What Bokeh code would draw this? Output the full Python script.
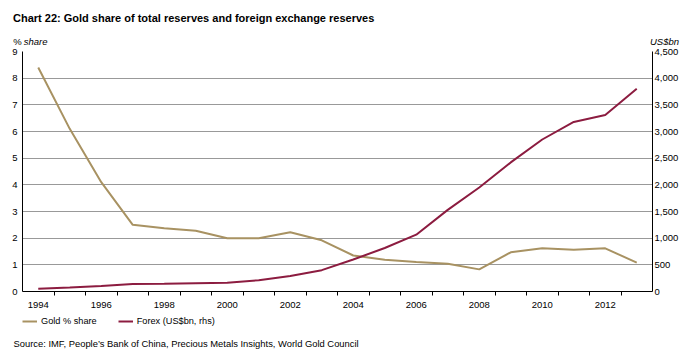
from bokeh.plotting import figure
from bokeh.layouts import column, row
from bokeh.models import (Range1d, LinearAxis, FixedTicker, NumeralTickFormatter,
                          Legend, LegendItem)
from bokeh.core.properties import value
from bokeh.embed import file_html
from bokeh.resources import INLINE

years = list(range(1994, 2014))
gold_share = [8.4, 6.1, 4.1, 2.5, 2.37, 2.28, 2.0, 2.0, 2.22, 1.92, 1.35, 1.19,
              1.11, 1.04, 0.83, 1.47, 1.62, 1.57, 1.62, 1.08]
forex = [52, 75, 105, 140, 145, 155, 166, 212, 290, 400, 600, 815,
         1065, 1530, 1950, 2420, 2850, 3180, 3310, 3800]
x_tick_labels = [1994, 1996, 1998, 2000, 2002, 2004, 2006, 2008, 2010, 2012]
left_ticks = list(range(0, 10))
right_ticks = list(range(0, 4501, 500))

title_text = "Chart 22: Gold share of total reserves and foreign exchange reserves"
left_unit = ["%", "share"]
right_unit = "US$bn"
series_names = ["Gold % share", "Forex (US$bn, rhs)"]
source_text = "Source: IMF, People\u2019s Bank of China, Precious Metals Insights, World Gold Council"

FONT = "Liberation Sans"
GOLD = "#a89262"
FOREX = "#8c1c40"
W = 689


def blank(height, top_px):
    f = figure(width=W, height=height, output_backend="svg", toolbar_location=None,
               x_range=Range1d(0, W), y_range=Range1d(top_px + height, top_px),
               x_axis_location=None, y_axis_location=None,
               min_border=0, min_border_left=0, min_border_right=0,
               min_border_top=0, min_border_bottom=0)
    f.outline_line_color = None
    f.xgrid.visible = False
    f.ygrid.visible = False
    return f


# ---- top strip: title and axis units ----
top = blank(45, 0)
top.text(x=[12.5], y=[17], text=[title_text], text_font=value(FONT),
         text_font_size="11px", text_font_style="bold", text_color="black",
         text_baseline="alphabetic", text_align="left")
top.text(x=[12.7], y=[40.5], text=[left_unit[0]], text_font=value(FONT),
         text_font_size="9.5px", text_color="black",
         text_baseline="alphabetic", text_align="left")
top.text(x=[23.3], y=[40.5], text=[left_unit[1]], text_font=value(FONT),
         text_font_size="9.5px", text_font_style="italic", text_color="black",
         text_baseline="alphabetic", text_align="left")
top.text(x=[678.5], y=[40.5], text=[right_unit], text_font=value(FONT),
         text_font_size="9.5px", text_font_style="italic", text_color="black",
         text_baseline="alphabetic", text_align="right")

# ---- main chart ----
p = figure(width=W, height=268, output_backend="svg", toolbar_location=None,
           x_range=Range1d(1993.5, 2013.5), y_range=Range1d(0, 9),
           min_border_left=22, min_border_right=37, min_border_top=6,
           min_border_bottom=22)
p.outline_line_color = None
p.extra_y_ranges = {"fx": Range1d(0, 4500)}

xa = p.xaxis[0]
xa.ticker = FixedTicker(ticks=x_tick_labels,
                        minor_ticks=[y + 0.5 for y in years[:-1]])
xa.major_tick_out = 0
xa.major_tick_in = 0
xa.minor_tick_out = 4
xa.minor_tick_in = 0
xa.minor_tick_line_color = "black"
xa.axis_line_color = "black"
xa.major_label_text_font = FONT
xa.major_label_text_font_size = "9.5px"
xa.major_label_text_color = "black"
xa.major_label_standoff = 6

ya = p.yaxis[0]
ya.ticker = FixedTicker(ticks=left_ticks)
ya.major_tick_out = 0
ya.major_tick_in = 0
ya.minor_tick_out = 0
ya.minor_tick_in = 0
ya.axis_line_color = "black"
ya.major_label_text_font = FONT
ya.major_label_text_font_size = "9.5px"
ya.major_label_text_color = "black"
ya.major_label_standoff = 5

ra = LinearAxis(y_range_name="fx", ticker=FixedTicker(ticks=right_ticks),
                formatter=NumeralTickFormatter(format="0,0"))
ra.major_tick_out = 0
ra.major_tick_in = 0
ra.minor_tick_out = 0
ra.minor_tick_in = 0
ra.axis_line_color = "black"
ra.major_label_text_font = FONT
ra.major_label_text_font_size = "9.5px"
ra.major_label_text_color = "black"
ra.major_label_standoff = 2
p.add_layout(ra, "right")

p.xgrid.grid_line_color = None
p.ygrid.ticker = FixedTicker(ticks=left_ticks[1:])
p.ygrid.grid_line_color = "#333333"
p.ygrid.grid_line_dash = "1 1"
p.ygrid.grid_line_width = 1

p.line(years, gold_share, line_color=GOLD, line_width=2)
p.line(years, forex, y_range_name="fx", line_color=FOREX, line_width=2)

# ---- bottom strip: legend and source ----
bot = blank(45, 313)
nan = float("nan")
lg = bot.line(x=[nan], y=[nan], line_color=GOLD, line_width=2)
lf = bot.line(x=[nan], y=[nan], line_color=FOREX, line_width=2)
legend = Legend(items=[LegendItem(label=series_names[0], renderers=[lg]),
                       LegendItem(label=series_names[1], renderers=[lf])],
                orientation="horizontal", location=(22, 32),
                border_line_color=None, background_fill_alpha=0,
                label_text_font=FONT, label_text_font_size="9.2px",
                label_text_color="black", glyph_width=15, glyph_height=10,
                label_standoff=4, spacing=21, padding=0, margin=0)
bot.add_layout(legend, "center")
bot.text(x=[13], y=[343], text=[source_text], text_font=value(FONT),
         text_font_size="9.4px", text_color="black",
         text_baseline="alphabetic", text_align="left")

layout = column(row(top), p, row(bot), spacing=0)
open("out.html", "w").write(file_html(layout, INLINE))
